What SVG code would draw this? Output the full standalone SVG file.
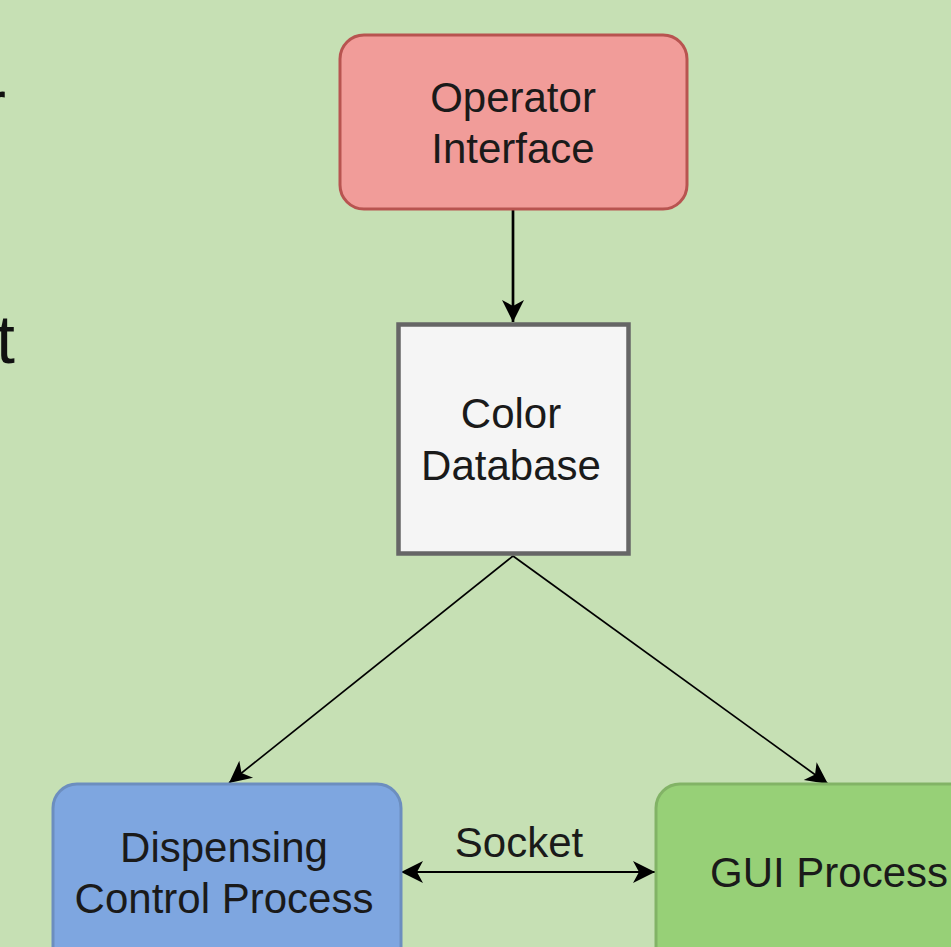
<svg xmlns="http://www.w3.org/2000/svg" width="951" height="947" viewBox="0 0 951 947">
  <style>
    .lbl { font-family: "Liberation Sans", Arial, Helvetica, sans-serif; font-size: 42px; fill: #1a1a1a; text-anchor: middle; }
    .slide { font-family: "Liberation Sans", Arial, sans-serif; font-size: 68px; fill: #111; text-anchor: end; }
    .edge { fill: none; stroke: #000; }
  </style>
  <defs>
    <marker id="ah" viewBox="-24 -13 26 26" refX="0" refY="0" markerWidth="26" markerHeight="26" markerUnits="userSpaceOnUse" orient="auto-start-reverse">
      <path d="M0,0 L-22,-11 L-16,0 L-22,11 Z" fill="#000"/>
    </marker>
  </defs>
  <rect x="0" y="0" width="951" height="947" fill="#c6e0b4"/>

  <g id="slide-text">
    <text class="slide" x="6" y="128">r</text>
    <text class="slide" x="15" y="363">t</text>
  </g>

  <g id="connectors">
    <line class="edge" x1="513" y1="210" x2="513" y2="322" stroke-width="2.7" marker-end="url(#ah)"/>
    <line class="edge" x1="513" y1="556" x2="229" y2="783" stroke-width="1.7" marker-end="url(#ah)"/>
    <line class="edge" x1="513" y1="556" x2="828" y2="784" stroke-width="1.7" marker-end="url(#ah)"/>
    <line class="edge" x1="401" y1="872" x2="655" y2="872" stroke-width="2.2" marker-start="url(#ah)" marker-end="url(#ah)"/>
    <text class="lbl" x="519" y="857">Socket</text>
  </g>

  <g id="operator-interface">
    <rect x="340" y="35" width="347" height="174" rx="24" ry="24" fill="#f19c99" stroke="#b85450" stroke-width="3"/>
    <text class="lbl" x="513" y="112">Operator</text>
    <text class="lbl" x="513" y="163">Interface</text>
  </g>

  <g id="color-database">
    <rect x="398.5" y="324.5" width="230" height="229" fill="#f5f5f5" stroke="#666666" stroke-width="4.5"/>
    <text class="lbl" x="511" y="428">Color</text>
    <text class="lbl" x="511" y="480">Database</text>
  </g>

  <g id="dispensing-control-process">
    <rect x="53" y="784" width="348" height="200" rx="24" ry="24" fill="#7ea6e0" stroke="#6c8ebf" stroke-width="3"/>
    <text class="lbl" x="224" y="862">Dispensing</text>
    <text class="lbl" x="224" y="913">Control Process</text>
  </g>

  <g id="gui-process">
    <rect x="656" y="784" width="348" height="200" rx="24" ry="24" fill="#97d077" stroke="#82b366" stroke-width="3"/>
    <text class="lbl" x="829" y="887">GUI Process</text>
  </g>
</svg>
